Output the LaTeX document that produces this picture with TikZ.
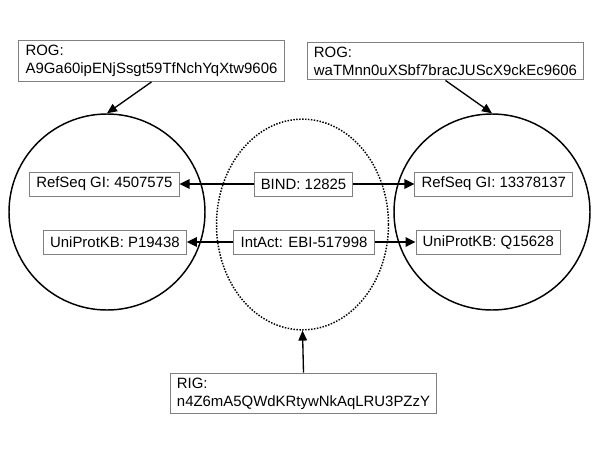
\documentclass[tikz,border=0pt]{standalone}
\usepackage{fontspec}
\setmainfont{Liberation Sans}
\usetikzlibrary{shapes.geometric, positioning, arrows.meta}

\begin{document}
\begin{tikzpicture}[x=0.75pt, y=-0.75pt,
        idbox/.style={draw=black!50, line width=0.75pt, fill=white, inner xsep=5pt, inner ysep=3.5pt,
            minimum height=18pt, font=\fontsize{11.2}{13.5}\selectfont},
        link/.style={-{Triangle[length=7.5pt,width=7pt]}, line width=1.6pt},
        pointer/.style={-{Triangle[length=7.5pt,width=6.5pt]}, line width=1pt}]
    \useasboundingbox (0,0) rectangle (600,450);

    \node[circle, draw, line width=1.1pt, minimum size=147pt] (human) at (107,212) {};
    \node[circle, draw, line width=1.1pt, minimum size=147pt] (mouse) at (492,212) {};
    \node[ellipse, draw, line width=1.1pt, dash pattern=on 1.1pt off 1.1pt,
        minimum width=129pt, minimum height=158pt] (inter) at (302.5,224.5) {};

    \node[idbox] (bind) at (303.5,184) {BIND: 12825};
    \node[idbox] (intact) at (304,242) {IntAct: EBI-517998};

    \node[idbox, left=55.5pt] (refA) at (bind.west) {RefSeq GI: 4507575};
    \node[idbox, right=45.75pt] (refB) at (bind.east) {RefSeq GI: 13378137};
    \node[idbox, left=35pt] (uniA) at (intact.west) {UniProtKB: P19438};
    \node[idbox, right=30.75pt] (uniB) at (intact.east) {UniProtKB: Q15628};
    \draw[link] (bind) -- (refA);
    \draw[link] (bind) -- (refB);
    \draw[link] (intact) -- (uniA);
    \draw[link] (intact) -- (uniB);

    \node[idbox, align=left] (rogA) at (151.5,61) {ROG:\\A9Ga60ipENjSsgt59TfNchYqXtw9606};
    \node[idbox, align=left] (rogB) at (445.5,61) {ROG:\\waTMnn0uXSbf7bracJUScX9ckEc9606};
    \node[idbox, align=left] (rig) at (303.5,393.5) {RIG:\\n4Z6mA5QWdKRtywNkAqLRU3PZzY};
    \draw[pointer] (rogA.south) -- (human.north);
    \draw[pointer] (rogB.south) -- (mouse.north);
    \draw[pointer] (rig.north) -- (inter.south);
\end{tikzpicture}
\end{document}
